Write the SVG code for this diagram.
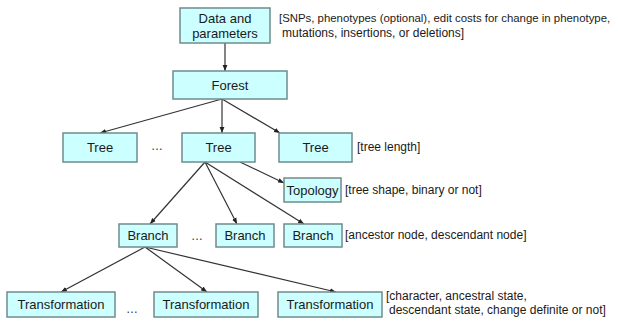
<svg xmlns="http://www.w3.org/2000/svg" width="618" height="324" viewBox="0 0 618 324">
<style>
.box{fill:#ccffff;stroke:#6f8c8c;stroke-width:1.5}
.lbl{font-family:"Liberation Sans",Arial,sans-serif;font-size:13px;fill:#1a1a1a;text-anchor:middle}
.ann{font-family:"Liberation Sans",Arial,sans-serif;font-size:12px;fill:#1a1a1a}
.dots{font-family:"Liberation Sans",Arial,sans-serif;font-size:12px;fill:#333;text-anchor:middle}
.edge{stroke:#333;stroke-width:1.2;fill:none;marker-end:url(#ah)}
</style>
<defs>
<marker id="ah" viewBox="0 0 10 10" refX="10" refY="5" markerWidth="6" markerHeight="6" markerUnits="userSpaceOnUse" orient="auto">
<path d="M0,1 L10,5 L0,9 z" fill="#222"/>
</marker>
</defs>
<rect width="618" height="324" fill="#ffffff"/>
<g id="connectors">
<line class="edge" x1="225" y1="43" x2="225" y2="71"/>
<line class="edge" x1="222" y1="99" x2="100" y2="133"/>
<line class="edge" x1="222" y1="99" x2="222" y2="133"/>
<line class="edge" x1="222" y1="99" x2="280" y2="133"/>
<line class="edge" x1="240" y1="162" x2="284" y2="183"/>
<line class="edge" x1="205" y1="162" x2="150" y2="224"/>
<line class="edge" x1="205" y1="162" x2="237" y2="224"/>
<line class="edge" x1="205" y1="162" x2="304" y2="224"/>
<line class="edge" x1="145" y1="247" x2="61" y2="292"/>
<line class="edge" x1="145" y1="247" x2="207" y2="292"/>
<line class="edge" x1="145" y1="247" x2="336" y2="292"/>
</g>
<g id="data">
<rect class="box" x="180" y="8" width="90" height="35"/>
<text class="lbl" x="225" y="23">Data and</text>
<text class="lbl" x="225" y="38">parameters</text>
</g>
<text class="ann" x="279" y="22" style="font-size:11.4px">[SNPs, phenotypes (optional), edit costs for change in phenotype,</text>
<text class="ann" x="282" y="37">mutations, insertions, or deletions]</text>
<g id="forest">
<rect class="box" x="173" y="71" width="114" height="28"/>
<text class="lbl" x="230" y="90">Forest</text>
</g>
<g id="tree1">
<rect class="box" x="63" y="133" width="74" height="29"/>
<text class="lbl" x="100" y="152">Tree</text>
</g>
<text class="dots" x="157" y="150">…</text>
<g id="tree2">
<rect class="box" x="182" y="133" width="73" height="29"/>
<text class="lbl" x="218.5" y="152">Tree</text>
</g>
<g id="tree3">
<rect class="box" x="279" y="133" width="73" height="29"/>
<text class="lbl" x="315.5" y="152">Tree</text>
</g>
<text class="ann" x="357" y="151">[tree length]</text>
<g id="topology">
<rect class="box" x="284" y="178" width="57" height="24"/>
<text class="lbl" x="312.5" y="195">Topology</text>
</g>
<text class="ann" x="345" y="194">[tree shape, binary or not]</text>
<g id="branch1">
<rect class="box" x="119" y="224" width="58" height="23"/>
<text class="lbl" x="148" y="240">Branch</text>
</g>
<text class="dots" x="197" y="240">…</text>
<g id="branch2">
<rect class="box" x="216" y="224" width="58" height="23"/>
<text class="lbl" x="245" y="240">Branch</text>
</g>
<g id="branch3">
<rect class="box" x="284" y="224" width="58" height="23"/>
<text class="lbl" x="313" y="240">Branch</text>
</g>
<text class="ann" x="345" y="239">[ancestor node, descendant node]</text>
<g id="transformation1">
<rect class="box" x="7" y="292" width="108" height="25"/>
<text class="lbl" x="61" y="309">Transformation</text>
</g>
<text class="dots" x="132" y="313">…</text>
<g id="transformation2">
<rect class="box" x="154" y="292" width="104" height="25"/>
<text class="lbl" x="206" y="309">Transformation</text>
</g>
<g id="transformation3">
<rect class="box" x="278" y="292" width="104" height="25"/>
<text class="lbl" x="330" y="309">Transformation</text>
</g>
<text class="ann" x="386" y="300">[character, ancestral state,</text>
<text class="ann" x="389" y="314">descendant state, change definite or not]</text>
</svg>
